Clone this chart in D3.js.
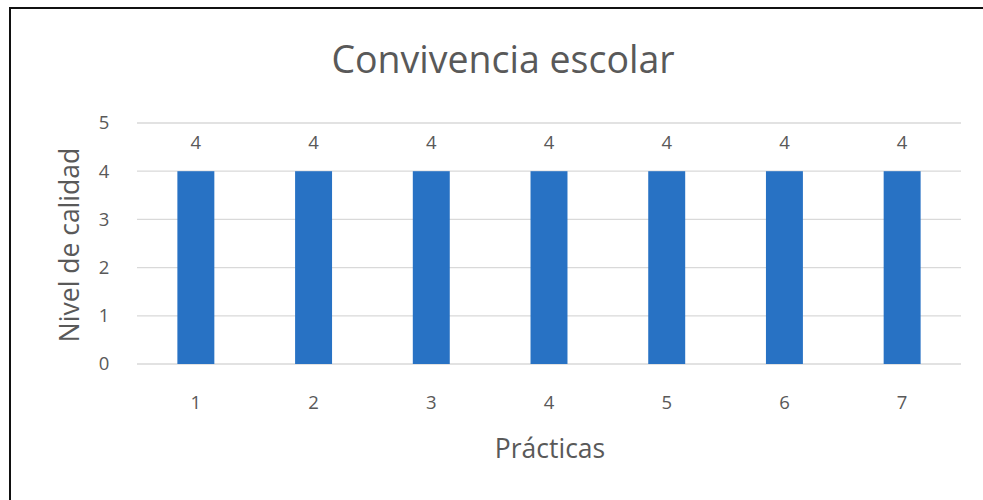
<!DOCTYPE html>
<html><head><meta charset="utf-8">
<script src="https://cdn.jsdelivr.net/npm/d3@7"></script>
<style>body{margin:0;background:#fff;} text{font-family:"Open Sans",sans-serif;fill:#595959;}</style>
</head><body>
<svg id="c" width="983" height="500"></svg>
<script>
const categories = ["1","2","3","4","5","6","7"];
const values = [4,4,4,4,4,4,4];
const yTicks = [0,1,2,3,4,5];
const title = "Convivencia escolar";
const xTitle = "Prácticas";
const yTitle = "Nivel de calidad";

const svg = d3.select("#c");
svg.append("path").attr("d","M10,500 V8 H983").attr("fill","none").attr("stroke","#111").attr("stroke-width",2);

const x = d3.scaleBand().domain(categories).range([137,961]).paddingInner(0.686).paddingOuter(0.343);
const y = d3.scaleLinear().domain([0,5]).range([364,123]);

svg.append("g").selectAll("line").data(yTicks).join("line")
  .attr("x1",137).attr("x2",961).attr("y1",d=>y(d)).attr("y2",d=>y(d))
  .attr("stroke","#d9d9d9").attr("stroke-width",1.3);

svg.append("g").selectAll("text").data(yTicks).join("text")
  .attr("x",104).attr("y",d=>y(d)).attr("dy","0.35em").attr("text-anchor","middle")
  .attr("font-size",18.5).text(d=>d);

svg.append("g").selectAll("rect").data(values).join("rect")
  .attr("x",(d,i)=>x(categories[i])).attr("width",x.bandwidth())
  .attr("y",d=>y(d)).attr("height",d=>y(0)-y(d)).attr("fill","#2872c4");

svg.append("g").selectAll("text").data(values).join("text")
  .attr("x",(d,i)=>x(categories[i])+x.bandwidth()/2).attr("y",d=>y(d)-29).attr("dy","0.35em")
  .attr("text-anchor","middle").attr("font-size",18.5).text(d=>d);

svg.append("g").selectAll("text").data(categories).join("text")
  .attr("x",d=>x(d)+x.bandwidth()/2).attr("y",403).attr("dy","0.35em")
  .attr("text-anchor","middle").attr("font-size",18.5).text(d=>d);

svg.append("text").attr("x",503).attr("y",60).attr("dy","0.35em").attr("text-anchor","middle")
  .attr("font-size",37.5).text(title);
svg.append("text").attr("x",550).attr("y",449).attr("dy","0.35em").attr("text-anchor","middle")
  .attr("font-size",26.5).text(xTitle);
svg.append("text").attr("transform","translate(70,245) rotate(-90)").attr("dy","0.35em").attr("text-anchor","middle")
  .attr("font-size",26.5).text(yTitle);
</script>
</body></html>
